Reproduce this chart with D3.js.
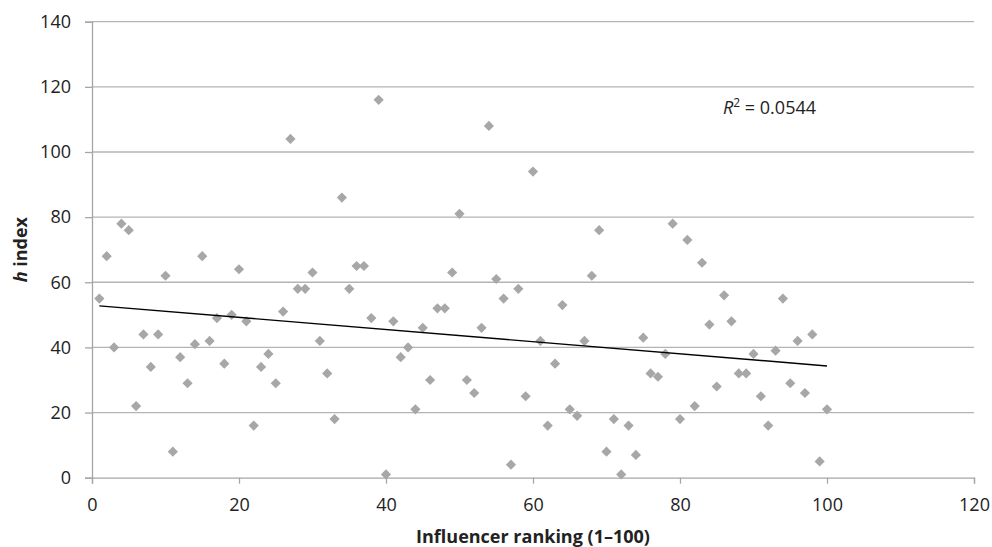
<!DOCTYPE html>
<html><head><meta charset="utf-8">
<script src="https://cdn.jsdelivr.net/npm/d3@7"></script>
<style>html,body{margin:0;padding:0;background:#fff;overflow:hidden}</style>
</head><body>
<svg id="c" width="992" height="547"></svg>
<script>
const ranking = d3.range(1, 101);
const hIndex = [55,68,40,78,76,22,44,34,44,62, 8,37,29,41,68,42,49,35,50,64,
                48,16,34,38,29,51,104,58,58,63, 42,32,18,86,58,65,65,49,116,1,
                48,37,40,21,46,30,52,52,63,81, 30,26,46,108,61,55,4,58,25,94,
                42,16,35,53,21,19,42,62,76,8, 18,1,16,7,43,32,31,38,78,18,
                73,22,66,47,28,56,48,32,32,38, 25,16,39,55,29,42,26,44,5,21];
const xTicks = [0,20,40,60,80,100,120];
const yTicks = [0,20,40,60,80,100,120,140];
const r2Label = "0.0544";

const svg = d3.select("#c");
const L = 92, R = 974, T = 21.7, B = 477.7;
const x = d3.scaleLinear().domain([0,120]).range([L,R]);
const y = d3.scaleLinear().domain([0,140]).range([B,T]);
const font = "'Open Sans', sans-serif";

// gridlines
svg.append("g").selectAll("line").data(yTicks.filter(d=>d>0)).join("line")
  .attr("x1", L).attr("x2", R).attr("y1", d=>y(d)).attr("y2", d=>y(d))
  .attr("stroke", "#b4b4b4").attr("stroke-width", 1.3);

// y axis
const ya = svg.append("g").attr("transform", `translate(${L},0)`)
  .call(d3.axisLeft(y).tickValues(yTicks).tickSize(7).tickPadding(14));
ya.select(".domain").attr("stroke", "#a6a6a6").attr("stroke-width", 1.3);
ya.selectAll(".tick line").attr("stroke", "#a6a6a6").attr("stroke-width", 1.3);
ya.selectAll("text").attr("font-family", font).attr("font-size", 18).attr("fill", "#222");

// x axis
const xa = svg.append("g").attr("transform", `translate(0,${B})`)
  .call(d3.axisBottom(x).tickValues(xTicks).tickSize(6).tickPadding(15));
xa.select(".domain").attr("stroke", "#a6a6a6").attr("stroke-width", 1.3);
xa.selectAll(".tick line").attr("stroke", "#a6a6a6").attr("stroke-width", 1.3);
xa.selectAll("text").attr("font-family", font).attr("font-size", 18).attr("fill", "#222");

// points
const pts = ranking.map((r,i)=>({r, h:hIndex[i]}));
const sym = d3.symbol().type(d3.symbolSquare).size(52);
svg.append("g").selectAll("path").data(pts).join("path")
  .attr("d", sym)
  .attr("transform", d=>`translate(${x(d.r)},${y(d.h)}) rotate(45)`)
  .attr("fill", "#a6a7a9");

// linear trendline
const mx = d3.mean(pts, d=>d.r), my = d3.mean(pts, d=>d.h);
const slope = d3.sum(pts, d=>(d.r-mx)*(d.h-my)) / d3.sum(pts, d=>(d.r-mx)**2);
const icpt = my - slope*mx;
const x0 = d3.min(ranking), x1 = d3.max(ranking);
svg.append("line")
  .attr("x1", x(x0)).attr("y1", y(icpt+slope*x0))
  .attr("x2", x(x1)).attr("y2", y(icpt+slope*x1))
  .attr("stroke", "#000").attr("stroke-width", 1.4);

// R^2 label
const t = svg.append("text").attr("x", 723).attr("y", 114)
  .attr("font-family", font).attr("font-size", 18).attr("fill", "#222");
t.append("tspan").attr("font-style", "italic").text("R");
t.append("tspan").attr("font-size", 12).attr("dy", -7).text("2");
t.append("tspan").attr("dy", 7).text(" = " + r2Label);

// axis titles
svg.append("text").attr("x", (L+R)/2).attr("y", 543).attr("text-anchor", "middle")
  .attr("font-family", font).attr("font-size", 18).attr("font-weight", "bold").attr("fill", "#222")
  .text("Influencer ranking (1\u2013100)");

const yt = svg.append("text").attr("transform", `translate(27,${(T+B)/2}) rotate(-90)`)
  .attr("text-anchor", "middle")
  .attr("font-family", font).attr("font-size", 18).attr("font-weight", "bold").attr("fill", "#222");
yt.append("tspan").attr("font-style", "italic").text("h");
yt.append("tspan").text(" index");
</script>
</body></html>
